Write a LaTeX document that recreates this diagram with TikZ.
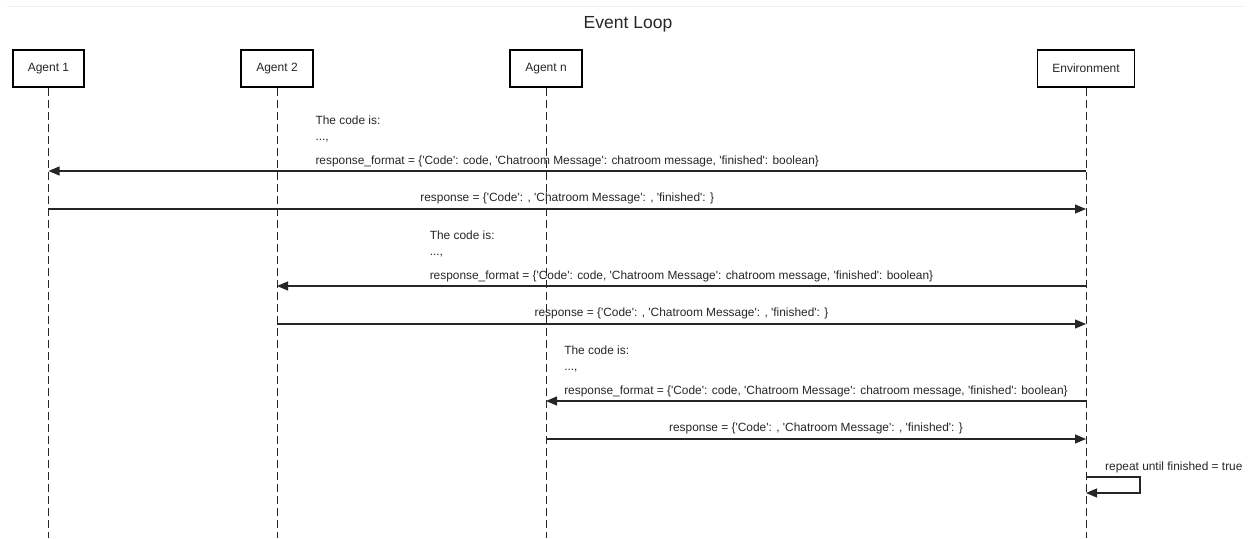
\documentclass[tikz,border=0pt]{standalone}
\usepackage{fontspec}
\setmainfont{Liberation Sans}[Ligatures=TeXOff]
\usetikzlibrary{arrows.meta}

\tikzset{
  actor/.style={rectangle, draw, line width=1.6pt, minimum height=37pt, inner sep=0pt, font=\fontsize{12}{14}\selectfont, text=black!85},
  lifeline/.style={draw=black!85, line width=1pt, dash pattern=on 8pt off 4pt},
  msg/.style={draw=black!85, line width=1.1pt, -{Triangle[length=11pt,width=9pt]}},
  lbl/.style={inner sep=0pt, font=\fontsize{11.9}{14}\selectfont, text=black!85}
}

\begin{document}
\begin{tikzpicture}[x=1pt, y=-1pt]
    \useasboundingbox (0,0) rectangle (1249,538);
    \draw[black!7, line width=1pt] (7,6) -- (1243,6);
    \node[anchor=base, font=\fontsize{17.5}{20}\selectfont, text=black!85] (title) at (628,28) {Event Loop};

    % participants
    \node[actor, minimum width=71pt] (A1) at (48.5,68.5) {Agent 1};
    \node[actor, minimum width=72pt] (A2) at (277,68.5) {Agent 2};
    \node[actor, minimum width=72pt] (An) at (546,68.5) {Agent n};
    \node[actor, minimum width=97pt] (Env) at (1086,68.5) {Environment};

    \coordinate (A1end) at (48.5,538);
    \coordinate (A2end) at (277,538);
    \coordinate (Anend) at (546,538);
    \coordinate (Envend) at (1086,538);

    \draw[lifeline] (A1) -- (A1end);
    \draw[lifeline] (A2) -- (A2end);
    \draw[lifeline] (An) -- (Anend);
    \draw[lifeline] (Env) -- (Envend);

    % message rows
    \coordinate (m1) at (0,171);
    \coordinate (m2) at (0,209);
    \coordinate (m3) at (0,286);
    \coordinate (m4) at (0,324);
    \coordinate (m5) at (0,401);
    \coordinate (m6) at (0,439);
    \coordinate (m7) at (0,477);

    \draw[msg] (Env |- m1) -- node[lbl, anchor=south, align=left, yshift=3.5pt] {The code is:\\[2pt]...,\\[10pt]response\_format = \{'Code': code, 'Chatroom Message': chatroom message, 'finished': boolean\}} (A1 |- m1);
    \draw[msg] (A1 |- m2) -- node[lbl, anchor=south, yshift=4.5pt] {response = \{'Code': , 'Chatroom Message': , 'finished': \}} (Env |- m2);

    \draw[msg] (Env |- m3) -- node[lbl, anchor=south, align=left, yshift=3.5pt] {The code is:\\[2pt]...,\\[10pt]response\_format = \{'Code': code, 'Chatroom Message': chatroom message, 'finished': boolean\}} (A2 |- m3);
    \draw[msg] (A2 |- m4) -- node[lbl, anchor=south, yshift=4.5pt] {response = \{'Code': , 'Chatroom Message': , 'finished': \}} (Env |- m4);

    \draw[msg] (Env |- m5) -- node[lbl, anchor=south, align=left, yshift=3.5pt] {The code is:\\[2pt]...,\\[10pt]response\_format = \{'Code': code, 'Chatroom Message': chatroom message, 'finished': boolean\}} (An |- m5);
    \draw[msg] (An |- m6) -- node[lbl, anchor=south, yshift=4.5pt] {response = \{'Code': , 'Chatroom Message': , 'finished': \}} (Env |- m6);

    % self call
    \draw[msg] (Env |- m7) -- ++(54,0) -- ++(0,16) -- ++(-54,0);
    \node[lbl, anchor=base west] (repeat) at (1105,470) {repeat until finished = true};
\end{tikzpicture}
\end{document}
